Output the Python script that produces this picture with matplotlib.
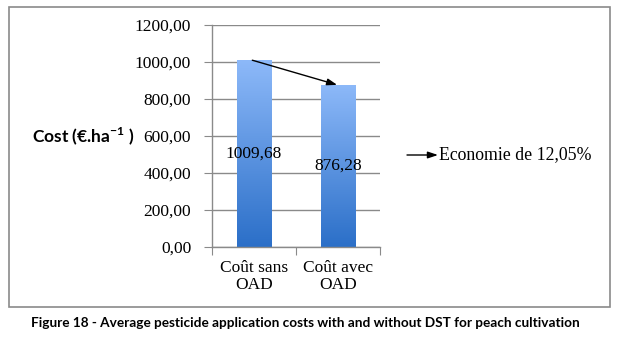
import numpy as np
import matplotlib
matplotlib.use("Agg")
import matplotlib.pyplot as plt
from matplotlib.patches import Rectangle
from matplotlib.colors import LinearSegmentedColormap

plt.rcParams['mathtext.fontset'] = 'custom'
plt.rcParams['mathtext.bf'] = 'Lato:bold'
plt.rcParams['mathtext.rm'] = 'Lato'

# data
categories = ['Coût sans\nOAD', 'Coût avec\nOAD']
costs = [1009.68, 876.28]
cost_labels = ['1009,68', '876,28']
yticks = [0, 200, 400, 600, 800, 1000, 1200]
ytick_labels = ['0,00', '200,00', '400,00', '600,00', '800,00', '1000,00', '1200,00']
saving_text = 'Economie de 12,05%'
caption = 'Figure 18 - Average pesticide application costs with and without DST for peach cultivation'

W, H = 623, 338
fig = plt.figure(figsize=(W / 100, H / 100), dpi=100)
ax = fig.add_axes([212 / W, 1 - 247 / H, 168 / W, 222 / H])

serif = 'Liberation Serif'
grid_c = '#8a8a8a'

# gradient bars
cmap = LinearSegmentedColormap.from_list('bar', ['#2b6fc8', '#8db9f9'])
grad = np.linspace(0, 1, 256).reshape(-1, 1)
x = np.arange(len(costs))
bw = 0.405
for xi, v, lab in zip(x, costs, cost_labels):
    rect = Rectangle((xi - bw / 2, 0), bw, v, facecolor='none', edgecolor='none')
    ax.add_patch(rect)
    im = ax.imshow(grad, cmap=cmap, origin='lower', aspect='auto',
                   extent=[xi - bw / 2, xi + bw / 2, 0, v], zorder=2)
    im.set_clip_path(rect)
    ax.text(xi, v / 2, lab, ha='center', va='center', fontsize=12.5,
            family=serif, color='black', zorder=3)

ax.set_xlim(-0.5, 1.5)
ax.set_ylim(0, 1200)
ax.set_yticks(yticks)
ax.set_yticklabels(ytick_labels, family=serif, fontsize=12.5)
ax.set_xticks([-0.5, 0.5, 1.5])
ax.set_xticklabels([])
ax.set_xticks(x, minor=True)
ax.set_xticklabels(categories, minor=True, family=serif, fontsize=12.5,
                   linespacing=1.15)
ax.tick_params(axis='x', which='minor', length=0, pad=9)
ax.tick_params(axis='x', which='major', length=6, color=grid_c, direction='out')
ax.tick_params(axis='y', length=6, color=grid_c, pad=9)
ax.grid(axis='y', color=grid_c, linewidth=1, zorder=0)
ax.set_axisbelow(True)
for s in ['top', 'right']:
    ax.spines[s].set_visible(False)
for s in ['left', 'bottom']:
    ax.spines[s].set_color(grid_c)
    ax.spines[s].set_linewidth(1)

arrow_props = dict(arrowstyle='-|>,head_length=0.6,head_width=0.2',
                   color='black', lw=1, shrinkA=0, shrinkB=0)

# arrow between bar tops
ax.annotate('', xy=(0.99, costs[1]), xytext=(-0.02, costs[0]),
            arrowprops=arrow_props, zorder=4)

# y label
fig.text(32 / W, 1 - 136 / H, r'Cost (€.ha$^{\mathbf{-1}}$ )', ha='left', va='center',
         fontsize=12.5, family='Lato', weight='bold')

# saving annotation
ax.annotate('', xy=(438, H - 155), xytext=(407, H - 155),
            xycoords='figure pixels', textcoords='figure pixels',
            arrowprops=arrow_props, annotation_clip=False)
fig.text(439 / W, 1 - 155 / H, saving_text, ha='left', va='center',
         fontsize=12.8, family=serif)

# outer frame
fig.add_artist(Rectangle((9 / W, 1 - 307 / H), 601 / W, 300 / H,
                         transform=fig.transFigure, facecolor='none',
                         edgecolor='#8a8a8a', lw=1.2))

fig.text(31 / W, 1 - 323 / H, caption, ha='left', va='center',
         fontsize=9.85, family='Lato', weight='bold')

fig.savefig('out.png', dpi=100)
